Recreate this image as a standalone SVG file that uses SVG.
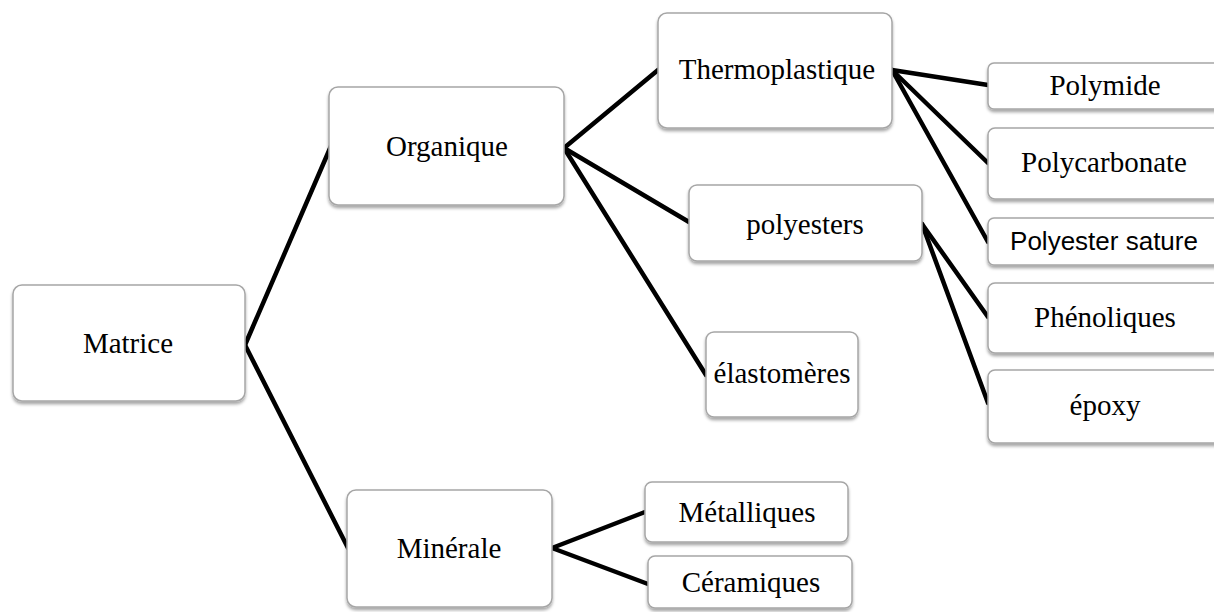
<svg xmlns="http://www.w3.org/2000/svg" width="1214" height="612" viewBox="0 0 1214 612">
<defs>
<filter id="sh" x="-10%" y="-10%" width="120%" height="130%">
<feDropShadow dx="0" dy="2.5" stdDeviation="1.5" flood-color="#000" flood-opacity="0.35"/>
</filter>
</defs>
<style>
.box{fill:#fff;stroke:#a6a6a6;stroke-width:1.5;filter:url(#sh)}
.t{font-family:"Liberation Serif","Times New Roman",serif;font-size:29px;fill:#000;text-anchor:middle}
.s{font-family:"Liberation Sans",Arial,sans-serif;font-size:26px;fill:#000;text-anchor:middle}
.c line{stroke:#000;stroke-width:4.5;stroke-linecap:round}
</style>
<rect width="1214" height="612" fill="#fff"/>
<g class="c" id="connectors">
<line x1="245" y1="345" x2="331" y2="146"/>
<line x1="245" y1="345" x2="348" y2="548"/>
<line x1="564" y1="148" x2="658" y2="70"/>
<line x1="564" y1="148" x2="689" y2="222"/>
<line x1="564" y1="148" x2="706" y2="375"/>
<line x1="892" y1="70" x2="988" y2="85"/>
<line x1="892" y1="70" x2="988" y2="163"/>
<line x1="892" y1="70" x2="988" y2="242"/>
<line x1="922" y1="224" x2="988" y2="317"/>
<line x1="922" y1="224" x2="988" y2="403"/>
<line x1="552" y1="548" x2="645" y2="512"/>
<line x1="552" y1="548" x2="648" y2="584"/>
</g>
<g id="matrice"><rect class="box" x="13" y="285" width="232" height="116" rx="9"/><text class="t" x="128" y="353">Matrice</text></g>
<g id="organique"><rect class="box" x="329" y="87" width="235" height="118" rx="9"/><text class="t" x="447" y="156">Organique</text></g>
<g id="minerale"><rect class="box" x="347" y="490" width="205" height="117" rx="9"/><text class="t" x="449" y="558">Minérale</text></g>
<g id="thermoplastique"><rect class="box" x="658" y="13" width="234" height="115" rx="9"/><text class="t" x="777" y="79">Thermoplastique</text></g>
<g id="polyesters"><rect class="box" x="689" y="185" width="233" height="76" rx="8"/><text class="t" x="805" y="234">polyesters</text></g>
<g id="elastomeres"><rect class="box" x="706" y="332" width="152" height="85" rx="8"/><text class="t" x="782" y="383">élastomères</text></g>
<g id="polymide"><rect class="box" x="988" y="63" width="240" height="46" rx="6"/><text class="t" x="1105" y="95">Polymide</text></g>
<g id="polycarbonate"><rect class="box" x="988" y="128" width="240" height="71" rx="7"/><text class="t" x="1104" y="172">Polycarbonate</text></g>
<g id="polyester-sature"><rect class="box" x="988" y="218" width="240" height="47" rx="6"/><text class="s" x="1104" y="250">Polyester sature</text></g>
<g id="phenoliques"><rect class="box" x="988" y="283" width="240" height="70" rx="7"/><text class="t" x="1105" y="327">Phénoliques</text></g>
<g id="epoxy"><rect class="box" x="988" y="370" width="240" height="73" rx="7"/><text class="t" x="1105" y="415">époxy</text></g>
<g id="metalliques"><rect class="box" x="645" y="482" width="203" height="60" rx="7"/><text class="t" x="747" y="522">Métalliques</text></g>
<g id="ceramiques"><rect class="box" x="648" y="556" width="204" height="52" rx="7"/><text class="t" x="751" y="592">Céramiques</text></g>
</svg>
